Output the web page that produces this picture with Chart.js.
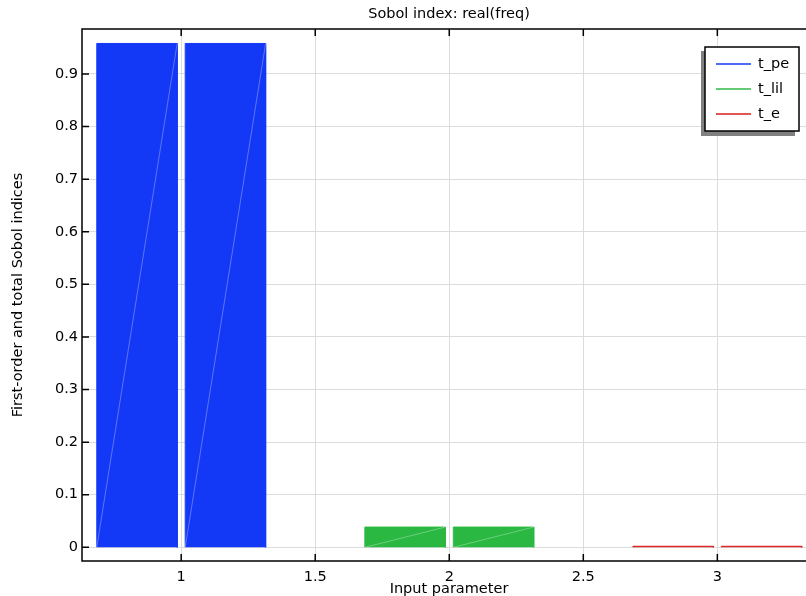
<!DOCTYPE html>
<html>
<head>
<meta charset="utf-8">
<script src="https://cdn.jsdelivr.net/npm/chart.js@4/dist/chart.umd.min.js"></script>
<style>
  html, body { margin: 0; padding: 0; background: #fff; overflow: hidden; }
  #wrap { width: 816px; height: 596px; position: relative; }
</style>
</head>
<body>
<div id="wrap"><canvas id="sobolChart"></canvas></div>
<script>
// Данные
const params = [1, 2, 3];
const seriesNames = ['t_pe', 't_lil', 't_e'];
const firstOrder = [0.958, 0.0385, 0.002];
const totalOrder = [0.958, 0.0385, 0.002];
const xTicks = [1, 1.5, 2, 2.5, 3];
const yTicks = [0, 0.1, 0.2, 0.3, 0.4, 0.5, 0.6, 0.7, 0.8, 0.9];

const colors = ['rgb(20,57,246)', 'rgb(43,184,66)', 'rgb(218,28,28)'];
const legendColors = ['rgb(20,57,246)', 'rgb(50,185,70)', 'rgb(218,28,28)'];

const FONT = "'DejaVu Sans', sans-serif";
Chart.defaults.font.family = FONT;
Chart.defaults.font.size = 14.5;
Chart.defaults.color = '#000';

// прямоугольник столбца как многоугольник
function rect(x0, x1, h) {
    return [{x: x0, y: 0}, {x: x0, y: h}, {x: x1, y: h}, {x: x1, y: 0}];
}

const halfGap = 0.015;
const barWidth = 0.3;
const bars = [];
params.forEach((p, i) => {
    bars.push({x0: p - halfGap - barWidth, x1: p - halfGap, h: firstOrder[i], c: i});
    bars.push({x0: p + halfGap, x1: p + halfGap + barWidth, h: totalOrder[i], c: i});
});

const datasets = bars.map(b => ({
    label: seriesNames[b.c],
    data: rect(b.x0, b.x1, b.h),
    showLine: true,
    fill: 'origin',
    backgroundColor: colors[b.c],
    borderColor: colors[b.c],
    borderWidth: 1,
    pointRadius: 0,
    tension: 0
}));

const framePlugin = {
    id: 'frame',
    afterDatasetsDraw(chart) {
        const ctx = chart.ctx;
        const xs = chart.scales.x, ys = chart.scales.y;
        // диагональные артефакты
        ctx.save();
        ctx.strokeStyle = 'rgba(255,255,255,0.3)';
        ctx.lineWidth = 1;
        bars.forEach(b => {
            if (b.h < 0.01) return;
            ctx.beginPath();
            ctx.moveTo(xs.getPixelForValue(b.x0), ys.getPixelForValue(0));
            ctx.lineTo(xs.getPixelForValue(b.x1), ys.getPixelForValue(b.h));
            ctx.stroke();
        });
        ctx.restore();
    },
    afterDraw(chart) {
        const ctx = chart.ctx;
        const a = chart.chartArea;
        const xs = chart.scales.x, ys = chart.scales.y;
        ctx.save();
        ctx.strokeStyle = '#000';
        ctx.lineWidth = 1.5;
        ctx.strokeRect(a.left, a.top, a.right - a.left, a.bottom - a.top);
        ctx.beginPath();
        xTicks.forEach(v => {
            const px = xs.getPixelForValue(v);
            ctx.moveTo(px, a.bottom); ctx.lineTo(px, a.bottom - 7);
            ctx.moveTo(px, a.top); ctx.lineTo(px, a.top + 7);
        });
        yTicks.forEach(v => {
            const py = ys.getPixelForValue(v);
            ctx.moveTo(a.left, py); ctx.lineTo(a.left + 7, py);
            ctx.moveTo(a.right, py); ctx.lineTo(a.right - 7, py);
        });
        ctx.stroke();

        // заголовок
        ctx.fillStyle = '#000';
        ctx.font = "14.5px " + FONT;
        ctx.textAlign = 'center';
        ctx.textBaseline = 'middle';
        ctx.fillText('Sobol index: real(freq)', (a.left + a.right) / 2, 14);

        // легенда
        const bx = 705, by = 47, bw = 94, bh = 84;
        ctx.fillStyle = '#808080';
        ctx.fillRect(bx - 4, by + 4, bw, bh + 1);
        ctx.fillStyle = '#fff';
        ctx.fillRect(bx, by, bw, bh);
        ctx.lineWidth = 1.5;
        ctx.strokeStyle = '#000';
        ctx.strokeRect(bx, by, bw, bh);
        ctx.textAlign = 'left';
        seriesNames.forEach((name, i) => {
            const y = by + 17 + i * 25;
            ctx.strokeStyle = legendColors[i];
            ctx.lineWidth = 1.5;
            ctx.beginPath();
            ctx.moveTo(bx + 11, y);
            ctx.lineTo(bx + 46, y);
            ctx.stroke();
            ctx.fillStyle = '#000';
            ctx.fillText(name, bx + 53, y);
        });
        ctx.restore();
    }
};

new Chart(document.getElementById('sobolChart').getContext('2d'), {
    type: 'scatter',
    data: { datasets: datasets },
    options: {
        responsive: true,
        maintainAspectRatio: false,
        animation: false,
        layout: { padding: { top: 29, right: 0, left: 0, bottom: 0 } },
        plugins: {
            legend: { display: false },
            title: { display: false },
            tooltip: { enabled: false }
        },
        scales: {
            x: {
                type: 'linear',
                min: 0.63,
                max: 3.368,
                afterBuildTicks: s => { s.ticks = xTicks.map(v => ({value: v})); },
                afterFit: s => { s.height = 35; },
                ticks: { padding: 8, callback: v => String(v), maxRotation: 0 },
                grid: { color: '#dcdcdc', drawTicks: false },
                border: { display: false },
                title: { display: true, text: 'Input parameter', font: { lineHeight: 1.0 }, padding: { top: 0, bottom: 0 } }
            },
            y: {
                type: 'linear',
                min: -0.026,
                max: 0.9855,
                afterBuildTicks: s => { s.ticks = yTicks.map(v => ({value: v})); },
                afterFit: s => { s.width = 82; },
                ticks: { padding: 4, callback: v => String(v) },
                grid: { color: '#dcdcdc', drawTicks: false },
                border: { display: false },
                title: { display: true, text: 'First-order and total Sobol indices', padding: { top: 10, bottom: 0 } }
            }
        }
    },
    plugins: [framePlugin]
});
</script>
</body>
</html>
